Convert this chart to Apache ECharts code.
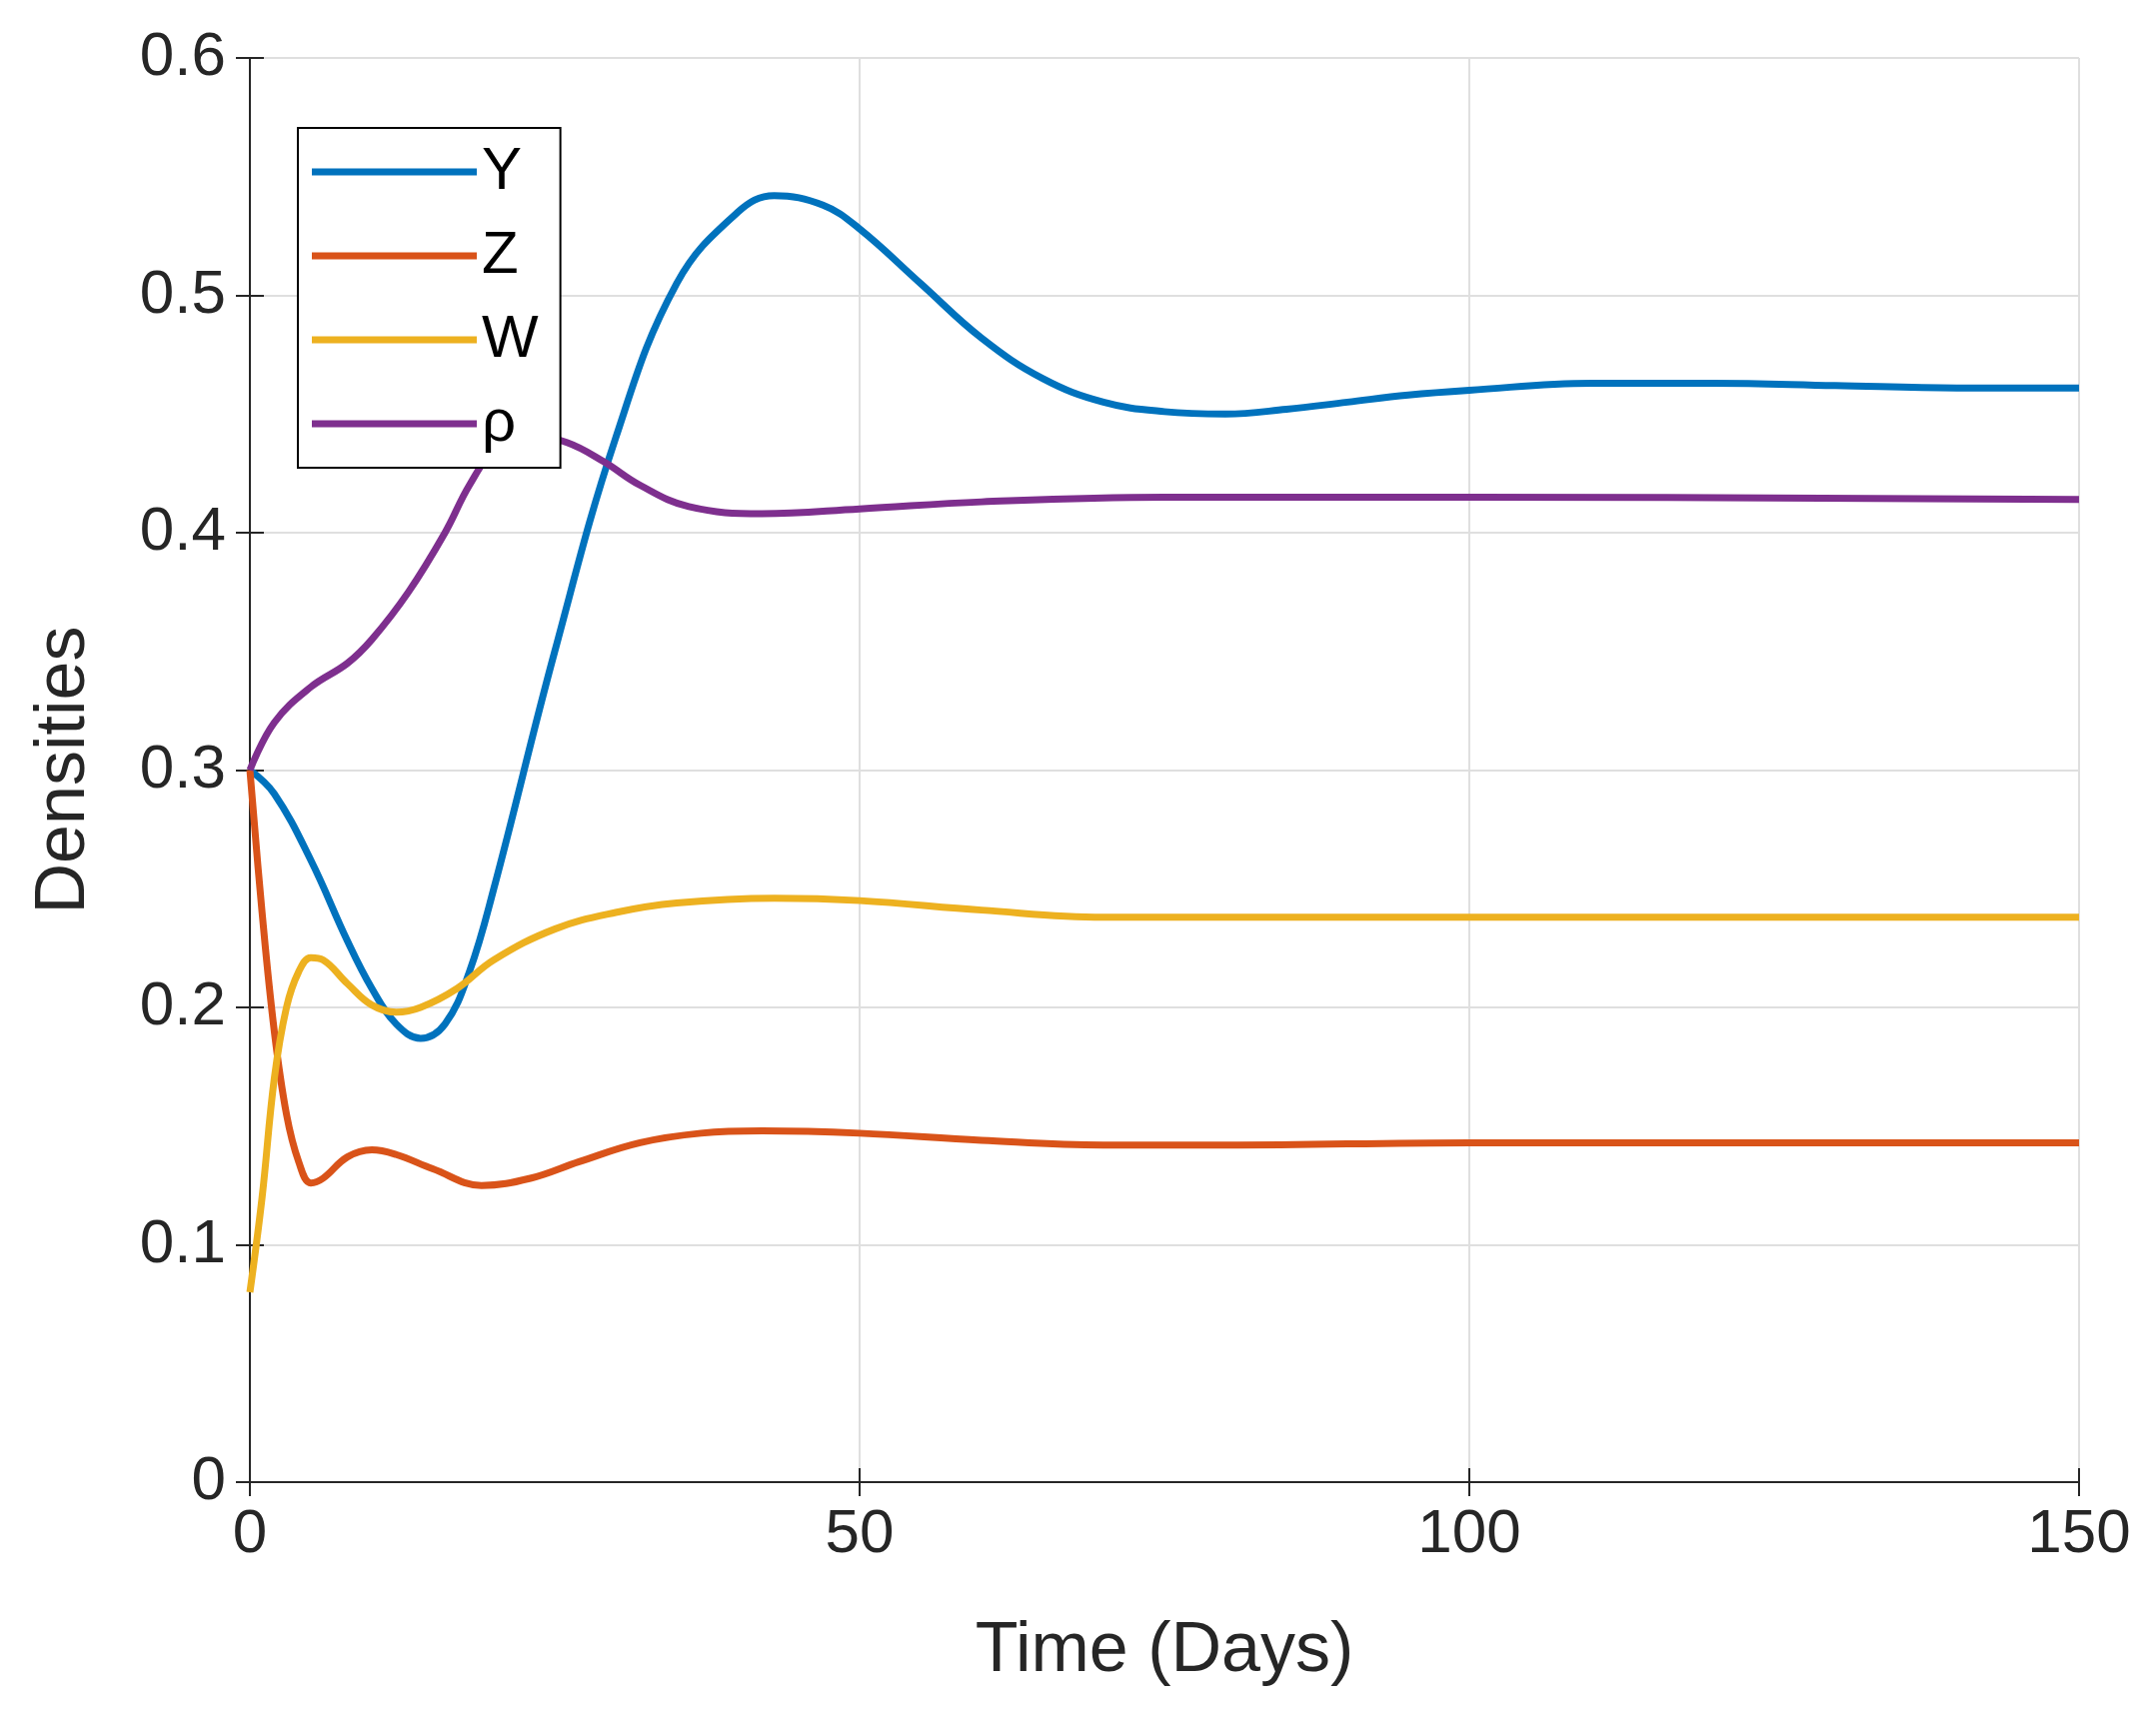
<!DOCTYPE html>
<html><head><meta charset="utf-8">
<script src="https://cdn.jsdelivr.net/npm/echarts@6/dist/echarts.min.js"></script>
<style>html,body{margin:0;background:#fff}#c{width:2157px;height:1730px}</style>
</head><body><div id="c"></div>
<script>
const seriesNames = ['Y', 'Z', 'W', 'ρ'];
const colors = ['#0072BD', '#D95319', '#EDB120', '#7E2F8E'];
const yData = [[0,0.30],[2,0.29],[5,0.262],[8,0.228],[10,0.208],[12,0.193],[14,0.187],[16,0.193],[18,0.215],[20,0.25],[25,0.35],[30,0.44],[35,0.505],[40,0.535],[43,0.542],[47,0.538],[50,0.528],[55,0.505],[60,0.482],[65,0.465],[70,0.455],[75,0.451],[80,0.45],[85,0.452],[90,0.455],[95,0.458],[100,0.46],[110,0.463],[120,0.463],[130,0.462],[140,0.461],[150,0.461]];
const zData = [[0,0.30],[1,0.24],[2,0.19],[3,0.155],[4,0.135],[5,0.126],[6,0.128],[8,0.137],[10,0.14],[12,0.138],[15,0.132],[19,0.125],[23,0.128],[27,0.135],[32,0.143],[37,0.147],[42,0.148],[50,0.147],[60,0.144],[70,0.142],[80,0.142],[100,0.143],[150,0.143]];
const wData = [[0,0.08],[1,0.12],[2,0.17],[3,0.2],[4,0.215],[5,0.221],[6,0.22],[8,0.21],[10,0.201],[12,0.198],[14,0.2],[17,0.208],[20,0.22],[25,0.233],[30,0.24],[35,0.244],[43,0.246],[50,0.245],[60,0.241],[70,0.238],[80,0.238],[100,0.238],[150,0.238]];
const rhoData = [[0,0.30],[2,0.32],[5,0.335],[8,0.345],[10,0.355],[13,0.375],[16,0.40],[18,0.42],[20,0.434],[23,0.441],[26,0.438],[29,0.43],[32,0.42],[36,0.411],[42,0.408],[50,0.41],[60,0.413],[75,0.415],[90,0.415],[100,0.415],[150,0.414]];
const allData = [yData, zData, wData, rhoData];

const font = 'Liberation Sans';
const axisLine = {show: true, lineStyle: {color: '#262626', width: 2}};
const tick = {inside: true, length: 14, lineStyle: {color: '#262626', width: 2}};
const chart = echarts.init(document.getElementById('c'));
chart.setOption({
  animation: false,
  grid: {left: 250, right: 77, top: 58, bottom: 247},
  legend: {
    orient: 'vertical', left: 298, top: 128, padding: [14, 22, 14, 14],
    borderColor: '#000', borderWidth: 2, backgroundColor: '#fff',
    itemWidth: 165, itemHeight: 7, itemGap: 24, icon: 'rect',
    textStyle: {fontFamily: font, fontSize: 60, color: '#000'},
    data: seriesNames
  },
  xAxis: [{
    type: 'value', min: 0, max: 150, interval: 50,
    name: 'Time (Days)', nameLocation: 'middle', nameGap: 135,
    nameTextStyle: {fontFamily: font, fontSize: 70, color: '#262626'},
    axisLine, axisTick: tick,
    axisLabel: {fontFamily: font, fontSize: 62, color: '#262626', margin: 22},
    splitLine: {lineStyle: {color: '#dfdfdf', width: 2}}
  }, {
    type: 'value', position: 'top', min: 0, max: 150, interval: 50,
    axisLine, axisTick: tick, axisLabel: {show: false}, splitLine: {show: false}
  }],
  yAxis: [{
    type: 'value', min: 0, max: 0.6, interval: 0.1,
    name: 'Densities', nameLocation: 'middle', nameGap: 150,
    nameTextStyle: {fontFamily: font, fontSize: 70, color: '#262626'},
    axisLine, axisTick: tick,
    axisLabel: {fontFamily: font, fontSize: 62, color: '#262626', margin: 24,
      formatter: v => v === 0 ? '0' : v.toFixed(1)},
    splitLine: {lineStyle: {color: '#dfdfdf', width: 2}}
  }, {
    type: 'value', position: 'right', min: 0, max: 0.6, interval: 0.1,
    axisLine, axisTick: tick, axisLabel: {show: false}, splitLine: {show: false}
  }],
  series: seriesNames.map((n, i) => ({
    name: n, type: 'line', data: allData[i], smooth: 0.4, symbol: 'none',
    color: colors[i], lineStyle: {width: 7, color: colors[i]}
  }))
});
</script></body></html>
